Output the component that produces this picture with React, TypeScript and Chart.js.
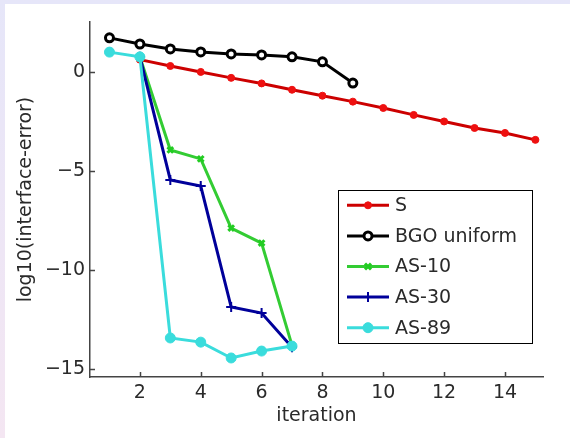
import React, { useEffect, useRef } from "react";
import { Chart, registerables } from "chart.js";

Chart.register(...registerables);

// ---- data ----
const S_ITER = [2, 3, 4, 5, 6, 7, 8, 9, 10, 11, 12, 13, 14, 15];
const S_VALUES = [0.62, 0.3, 0.0, -0.3, -0.58, -0.9, -1.2, -1.5, -1.82, -2.17, -2.5, -2.83, -3.08, -3.43];
const BGO_ITER = [1, 2, 3, 4, 5, 6, 7, 8, 9];
const BGO_VALUES = [1.72, 1.41, 1.16, 1.01, 0.91, 0.86, 0.76, 0.51, -0.56];
const AS10_ITER = [2, 3, 4, 5, 6, 7];
const AS10_VALUES = [0.76, -3.94, -4.39, -7.88, -8.64, -13.8];
const AS30_ITER = [2, 3, 4, 5, 6, 7];
const AS30_VALUES = [0.76, -5.45, -5.76, -11.87, -12.17, -13.9];
const AS89_ITER = [1, 2, 3, 4, 5, 6, 7];
const AS89_VALUES = [1.0, 0.76, -13.43, -13.64, -14.44, -14.09, -13.84];

const X_TICKS = [2, 4, 6, 8, 10, 12, 14];
const Y_TICKS = [-15, -10, -5, 0];
const X_LABEL = "iteration";
const Y_LABEL = "log10(interface-error)";

const FONT = "'DejaVu Sans', sans-serif";
const TEXT_COLOR = "#2a2a2a";
const AXIS_COLOR = "#444";

type Series = {
  label: string;
  iter: number[];
  values: number[];
  line: string;
  point: string;
  fill: string;
  style: string;
  radius: number;
  pbw: number;
  lw: number;
};

const SERIES: Series[] = [
  { label: "S", iter: S_ITER, values: S_VALUES, line: "#cc0000", point: "#ee1010", fill: "#ee1010", style: "circle", radius: 3.5, pbw: 1, lw: 3 },
  { label: "BGO uniform", iter: BGO_ITER, values: BGO_VALUES, line: "#000000", point: "#000000", fill: "#ffffff", style: "circle", radius: 4, pbw: 3, lw: 3 },
  { label: "AS-10", iter: AS10_ITER, values: AS10_VALUES, line: "#33cc33", point: "#22cc22", fill: "#22cc22", style: "crossRot", radius: 4, pbw: 3, lw: 3 },
  { label: "AS-30", iter: AS30_ITER, values: AS30_VALUES, line: "#00009a", point: "#00009a", fill: "#00009a", style: "cross", radius: 5, pbw: 2, lw: 3 },
  { label: "AS-89", iter: AS89_ITER, values: AS89_VALUES, line: "#3adcdc", point: "#3adcdc", fill: "#3adcdc", style: "circle", radius: 5, pbw: 1, lw: 3 },
];

function drawMarker(ctx: CanvasRenderingContext2D, s: Series, x: number, y: number) {
  ctx.save();
  ctx.strokeStyle = s.point;
  ctx.fillStyle = s.fill;
  ctx.lineWidth = s.pbw;
  const r = s.radius;
  ctx.beginPath();
  if (s.style === "circle") {
    ctx.arc(x, y, r, 0, Math.PI * 2);
    ctx.fill();
    ctx.stroke();
  } else if (s.style === "cross") {
    ctx.moveTo(x - r, y);
    ctx.lineTo(x + r, y);
    ctx.moveTo(x, y - r);
    ctx.lineTo(x, y + r);
    ctx.stroke();
  } else {
    const d = r * 0.75;
    ctx.moveTo(x - d, y - d);
    ctx.lineTo(x + d, y + d);
    ctx.moveTo(x + d, y - d);
    ctx.lineTo(x - d, y + d);
    ctx.stroke();
  }
  ctx.restore();
}

const inwardTicks = {
  id: "inwardTicks",
  beforeDatasetsDraw(chart: any) {
    const { ctx, chartArea, scales } = chart;
    ctx.save();
    ctx.strokeStyle = AXIS_COLOR;
    ctx.lineWidth = 1.5;
    ctx.beginPath();
    for (const v of X_TICKS) {
      const px = Math.round(scales.x.getPixelForValue(v)) + 0.5;
      ctx.moveTo(px, chartArea.bottom);
      ctx.lineTo(px, chartArea.bottom - 5);
    }
    for (const v of Y_TICKS) {
      const py = Math.round(scales.y.getPixelForValue(v)) + 0.5;
      ctx.moveTo(chartArea.left, py);
      ctx.lineTo(chartArea.left + 5, py);
    }
    ctx.stroke();
    ctx.restore();
  },
};

const boxLegend = {
  id: "boxLegend",
  afterDraw(chart: any) {
    const { ctx } = chart;
    const left = 338, top = 190, right = 532, bottom = 343;
    ctx.save();
    ctx.fillStyle = "#ffffff";
    ctx.fillRect(left, top, right - left, bottom - top);
    ctx.strokeStyle = "#000";
    ctx.lineWidth = 1;
    ctx.strokeRect(left + 0.5, top + 0.5, right - left, bottom - top);
    const step = (bottom - top) / SERIES.length;
    SERIES.forEach((s, i) => {
      const y = top + step * (i + 0.5);
      ctx.strokeStyle = s.line;
      ctx.lineWidth = s.lw;
      ctx.beginPath();
      ctx.moveTo(347, y);
      ctx.lineTo(389, y);
      ctx.stroke();
      drawMarker(ctx, s, 368, y);
      ctx.fillStyle = TEXT_COLOR;
      ctx.font = `19px ${FONT}`;
      ctx.textBaseline = "middle";
      ctx.textAlign = "left";
      ctx.fillText(s.label, 395, y + 1);
    });
    ctx.restore();
  },
};

export default function App() {
  const ref = useRef<HTMLCanvasElement | null>(null);

  useEffect(() => {
    if (!ref.current) return;
    const order = [4, 3, 2, 1, 0];
    const chart = new Chart(ref.current, {
      type: "line",
      data: {
        datasets: SERIES.map((s, i) => ({
          label: s.label,
          data: s.iter.map((x, k) => ({ x, y: s.values[k] })),
          borderColor: s.line,
          borderWidth: s.lw,
          pointStyle: s.style as any,
          pointRadius: s.radius,
          pointBorderColor: s.point,
          pointBackgroundColor: s.fill,
          pointBorderWidth: s.pbw,
          tension: 0,
          fill: false,
          order: order[i],
        })),
      },
      options: {
        responsive: false,
        animation: false,
        devicePixelRatio: 1,
        layout: { padding: { left: 0, top: 22, right: 27, bottom: 0 } },
        plugins: { legend: { display: false }, tooltip: { enabled: false } },
        scales: {
          x: {
            type: "linear",
            min: 0.36,
            max: 15.25,
            grid: { display: false, drawTicks: false },
            border: { display: true, color: AXIS_COLOR, width: 1.5 },
            afterBuildTicks: (scale: any) => {
              scale.ticks = X_TICKS.map((v) => ({ value: v }));
            },
            afterFit: (scale: any) => {
              scale.height = 61;
            },
            ticks: { color: TEXT_COLOR, font: { family: FONT, size: 19 }, padding: 5, maxRotation: 0 },
            title: { display: true, text: X_LABEL, color: TEXT_COLOR, font: { family: FONT, size: 19 }, padding: { top: 0, bottom: 11 } },
          },
          y: {
            type: "linear",
            min: -15.4,
            max: 2.52,
            grid: { display: false, drawTicks: false },
            border: { display: true, color: AXIS_COLOR, width: 1.5 },
            afterBuildTicks: (scale: any) => {
              scale.ticks = Y_TICKS.map((v) => ({ value: v }));
            },
            afterFit: (scale: any) => {
              scale.width = 90;
            },
            ticks: {
              color: TEXT_COLOR,
              font: { family: FONT, size: 19 },
              padding: 5,
              callback: (v: any) => (Number(v) < 0 ? "\u2212" + Math.abs(Number(v)) : String(v)),
            },
            title: { display: true, text: Y_LABEL, color: TEXT_COLOR, font: { family: FONT, size: 19 }, padding: { top: 15, bottom: 0 } },
          },
        },
      },
      plugins: [inwardTicks, boxLegend],
    });
    return () => chart.destroy();
  }, []);

  return (
    <div
      style={{
        position: "fixed",
        left: 0,
        top: 0,
        width: 570,
        height: 438,
        background: "linear-gradient(to bottom, #e6e6f9, #f4e6f2)",
      }}
    >
      <div style={{ position: "absolute", left: 5, top: 4, width: 565, height: 434, background: "#ffffff" }} />
      <canvas ref={ref} width={570} height={438} style={{ position: "absolute", left: 0, top: 0, width: 570, height: 438 }} />
    </div>
  );
}
